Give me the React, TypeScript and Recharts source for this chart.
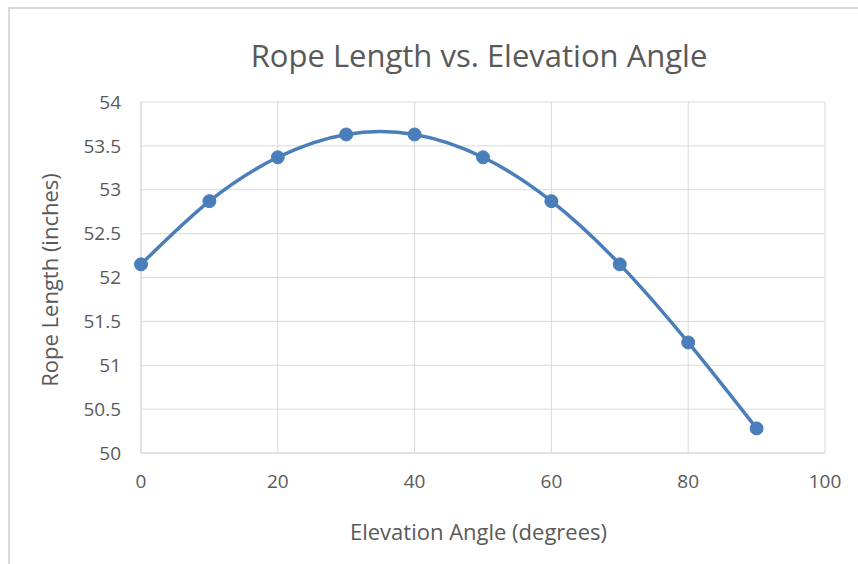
import React from "react";
import { LineChart, Line, XAxis, YAxis, CartesianGrid } from "recharts";

const angles = [0, 10, 20, 30, 40, 50, 60, 70, 80, 90];
const ropeLengths = [52.15, 52.87, 53.37, 53.63, 53.63, 53.37, 52.87, 52.15, 51.26, 50.28];
const xTicks = [0, 20, 40, 60, 80, 100];
const yTicks = [50, 50.5, 51, 51.5, 52, 52.5, 53, 53.5, 54];

const data = angles.map((a, i) => ({ angle: a, length: ropeLengths[i] }));

const FONT = "'Open Sans', sans-serif";
const TEXT = "#595959";
const GRID = "#d9d9d9";
const BLUE = "#4a7ebb";

export default function App() {
  return (
    <div style={{ position: "absolute", left: 0, top: 0, width: 858, height: 564, overflow: "hidden", background: "#fff", fontFamily: FONT }}>
      <div style={{ position: "absolute", left: 8, top: 7, width: 900, height: 600, border: `2px solid ${GRID}`, boxSizing: "border-box" }} />
      <div style={{ position: "absolute", left: 0, top: 0 }}>
        <LineChart width={858} height={564} data={data} margin={{ top: 102, right: 33, bottom: 81, left: 81 }}>
          <CartesianGrid stroke={GRID} strokeWidth={1} horizontal vertical />
          <XAxis
            dataKey="angle"
            type="number"
            domain={[0, 100]}
            ticks={xTicks}
            height={30}
            tickLine={false}
            axisLine={{ stroke: GRID }}
            tickSize={0}
            tickMargin={22}
            tick={{ fill: TEXT, fontSize: 19, fontFamily: FONT }}
            interval={0}
          />
          <YAxis
            type="number"
            domain={[50, 54]}
            ticks={yTicks}
            width={60}
            tickLine={false}
            axisLine={{ stroke: GRID }}
            tickSize={0}
            tickMargin={20}
            tick={{ fill: TEXT, fontSize: 19, fontFamily: FONT }}
            interval={0}
          />
          <Line
            dataKey="length"
            type="natural"
            stroke={BLUE}
            strokeWidth={3.5}
            dot={{ r: 6.5, fill: BLUE, stroke: BLUE, strokeWidth: 1 }}
            isAnimationActive={false}
          />
        </LineChart>
      </div>
      <div style={{ position: "absolute", left: 0, width: 958, top: 35, textAlign: "center", fontSize: 31, color: TEXT, lineHeight: "40px" }}>
        Rope Length vs. Elevation Angle
      </div>
      <div style={{ position: "absolute", left: 0, width: 957, top: 517, textAlign: "center", fontSize: 22, color: TEXT, lineHeight: "28px" }}>
        Elevation Angle (degrees)
      </div>
      <div style={{ position: "absolute", left: 49, top: 280, width: 0, height: 0 }}>
        <div style={{ position: "absolute", left: -150, top: -14, width: 300, textAlign: "center", transform: "rotate(-90deg)", fontSize: 22, color: TEXT, lineHeight: "28px", whiteSpace: "nowrap" }}>
          Rope Length (inches)
        </div>
      </div>
    </div>
  );
}
